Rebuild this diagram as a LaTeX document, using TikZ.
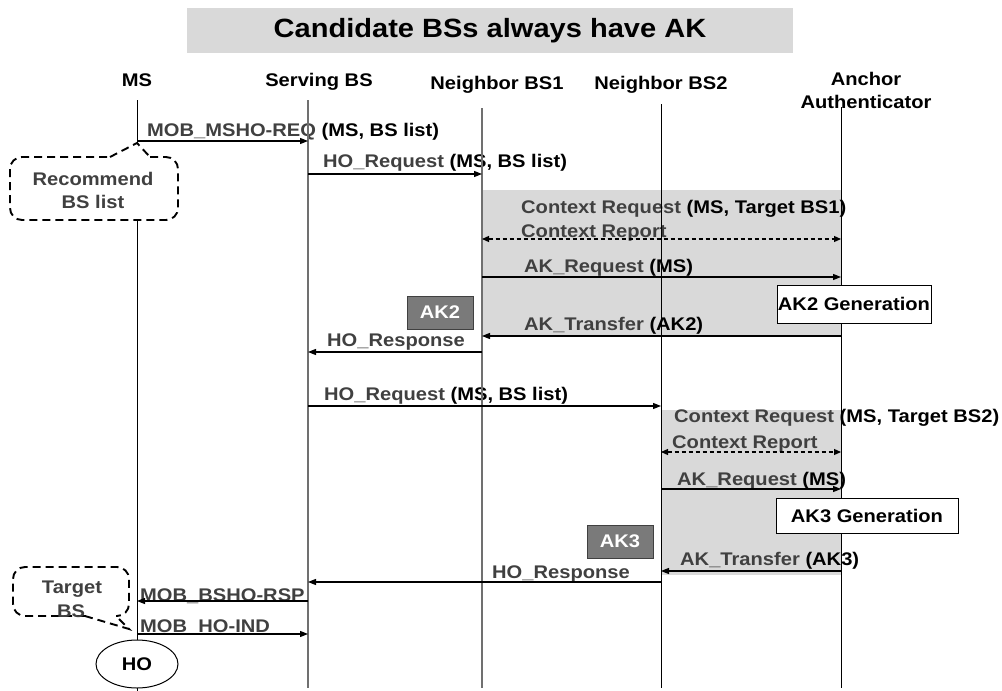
\documentclass[tikz,border=0pt]{standalone}
\usepackage{fontspec}
\setmainfont[FakeStretch=1.1]{Liberation Sans}
\usetikzlibrary{arrows.meta,shapes.geometric}

\definecolor{msgname}{HTML}{404040}
\definecolor{bandgray}{HTML}{D9D9D9}
\definecolor{keygray}{HTML}{7A7A7A}
\definecolor{lifegray}{HTML}{707070}

\newcommand\lblsize{\fontsize{18.3}{21}\selectfont\bfseries}
\newcommand\mname[1]{\textcolor{msgname}{#1}}

\tikzset{
  lbl/.style={anchor=base west, inner sep=0pt, font=\lblsize},
  head/.style={anchor=base, inner sep=0pt, font=\lblsize},
  life/.style={line width=1pt, black},
  lifeg/.style={line width=1.6pt, lifegray},
  msgarrow/.style={line width=1.2pt, -{Triangle[length=8pt,width=6pt]}},
  dblarrow/.style={line width=1.2pt, dashed, dash pattern=on 4pt off 3pt,
    {Triangle[length=7pt,width=6pt]}-{Triangle[length=7pt,width=6pt]}},
  genbox/.style={draw=black, line width=1pt, fill=white, inner sep=0pt, font=\lblsize},
  keybox/.style={draw=black!75, line width=1pt, fill=keygray, text=white,
    inner sep=0pt, minimum width=66pt, minimum height=33pt, font=\lblsize},
  note/.style={draw=black, line width=1.9pt, dash pattern=on 8pt off 5pt},
  notetext/.style={anchor=base, inner sep=0pt, font=\lblsize, text=msgname},
}

\begin{document}
\begin{tikzpicture}[x=1pt,y=-1pt]
\useasboundingbox (0,0) rectangle (1002,691);

% title band
\node[fill=bandgray, minimum width=606pt, minimum height=45pt, inner sep=0pt,
      font=\fontsize{26.4}{30}\selectfont\bfseries] (title) at (490,30.5)
      {Candidate BSs always have AK};

% column heads
\node[head] (hms)  at (137,86) {MS};
\node[head] (hsbs) at (319,86) {Serving BS};
\node[head] (hn1)  at (497,89) {Neighbor BS1};
\node[head] (hn2)  at (661,89) {Neighbor BS2};
\node[head] (hanc) at (866,85) {Anchor};
\node[head] (haut) at (866,108) {Authenticator};

% shaded key-exchange phases
\fill[bandgray] (482,190) rectangle (841,337);
\fill[bandgray] (661,410) rectangle (841,575);

% message labels
\node[lbl] (l1)  at (147,136) {\mname{MOB\_MSHO-REQ} (MS, BS list)};
\node[lbl] (l2)  at (323,167) {\mname{HO\_Request} (MS, BS list)};
\node[lbl] (l3)  at (521,213) {\mname{Context Request} (MS, Target BS1)};
\node[lbl] (l4)  at (521,237) {\mname{Context Report}};
\node[lbl] (l5)  at (524,272) {\mname{AK\_Request} (MS)};
\node[lbl] (l6)  at (524,330) {\mname{AK\_Transfer} (AK2)};
\node[lbl] (l7)  at (327,346) {\mname{HO\_Response}};
\node[lbl] (l8)  at (324,400) {\mname{HO\_Request} (MS, BS list)};
\node[lbl] (l9)  at (674,422) {\mname{Context Request} (MS, Target BS2)};
\node[lbl] (l10) at (672,448) {\mname{Context Report}};
\node[lbl] (l11) at (677,485) {\mname{AK\_Request} (MS)};
\node[lbl] (l12) at (680,565) {\mname{AK\_Transfer} (AK3)};
\node[lbl] (l13) at (492,578) {\mname{HO\_Response}};
\node[lbl] (l14) at (140,601) {\mname{MOB\_BSHO-RSP}};
\node[lbl] (l15) at (140,632) {\mname{MOB\_HO-IND}};

% lifelines
\coordinate (msT) at (137,100);  \coordinate (msB) at (137,691);
\coordinate (sbT) at (308,100);  \coordinate (sbB) at (308,688);
\coordinate (n1T) at (482,108);  \coordinate (n1B) at (482,688);
\coordinate (n2T) at (661,104);  \coordinate (n2B) at (661,688);
\coordinate (anT) at (841,107);  \coordinate (anB) at (841,688);
\draw[life]  (msT) -- (msB);
\draw[lifeg] (sbT) -- (sbB);
\draw[lifeg] (n1T) -- (n1B);
\draw[life]  (n2T) -- (n2B);
\draw[life]  (anT) -- (anB);

% message end points
\coordinate (a1) at (137,141); \coordinate (b1) at (308,141);
\coordinate (a2) at (308,174); \coordinate (b2) at (482,174);
\coordinate (a3) at (482,239); \coordinate (b3) at (841,239);
\coordinate (a4) at (482,277); \coordinate (b4) at (841,277);
\coordinate (a5) at (841,336); \coordinate (b5) at (482,336);
\coordinate (a6) at (482,352); \coordinate (b6) at (308,352);
\coordinate (a7) at (308,406); \coordinate (b7) at (661,406);
\coordinate (a8) at (661,452); \coordinate (b8) at (841,452);
\coordinate (a9) at (661,489); \coordinate (b9) at (841,489);
\coordinate (a10) at (841,571); \coordinate (b10) at (661,571);
\coordinate (a11) at (661,582); \coordinate (b11) at (308,582);
\coordinate (a12) at (308,601); \coordinate (b12) at (137,601);
\coordinate (a13) at (137,634); \coordinate (b13) at (308,634);

\draw[msgarrow] (a1) -- (b1);
\draw[msgarrow] (a2) -- (b2);
\draw[dblarrow] (a3) -- (b3);
\draw[msgarrow] (a4) -- (b4);
\draw[msgarrow] (a5) -- (b5);
\draw[msgarrow] (a6) -- (b6);
\draw[msgarrow] (a7) -- (b7);
\draw[dblarrow] (a8) -- (b8);
\draw[msgarrow] (a9) -- (b9);
\draw[msgarrow] (a10) -- (b10);
\draw[msgarrow] (a11) -- (b11);
\draw[msgarrow] (a12) -- (b12);
\draw[msgarrow] (a13) -- (b13);

% key generation boxes
\node[genbox, minimum width=154pt, minimum height=38pt] (g2) at (854,304) {AK2 Generation};
\node[genbox, minimum width=182pt, minimum height=35pt] (g3) at (867,515.5) {AK3 Generation};
\node[keybox] (k2) at (440,312.5) {AK2};
\node[keybox] (k3) at (620,541.5) {AK3};

% note: recommend BS list
\coordinate (rtip) at (137,143);
\fill[white, rounded corners=12pt] (10,157) rectangle (178,220);
\fill[white] (110,158) -- (rtip) -- (150,158) -- cycle;
\draw[note, rounded corners=12pt] (150,157) -- (178,157) -- (178,220) -- (10,220) -- (10,157) -- (110,157);
\draw[note] (110,157) -- (rtip) -- (150,157);
\node[notetext] (r1) at (93,185) {Recommend};
\node[notetext] (r2) at (93,208) {BS list};

% note: target BS
\coordinate (ttip) at (129,629);
\draw[note, rounded corners=12pt] (85,616) -- (13,616) -- (13,567) -- (129,567) -- (129,616) -- (116,616);
\draw[note] (85,616) -- (ttip) -- (116,616);
\node[notetext] (t1) at (72,593) {Target};
\node[notetext] (t2) at (71,617) {BS};

% handover
\node[ellipse, draw=black, line width=1pt, fill=white, minimum width=82pt,
      minimum height=48pt, inner sep=0pt, font=\lblsize] (ho) at (137,664) {HO};
\end{tikzpicture}
\end{document}
